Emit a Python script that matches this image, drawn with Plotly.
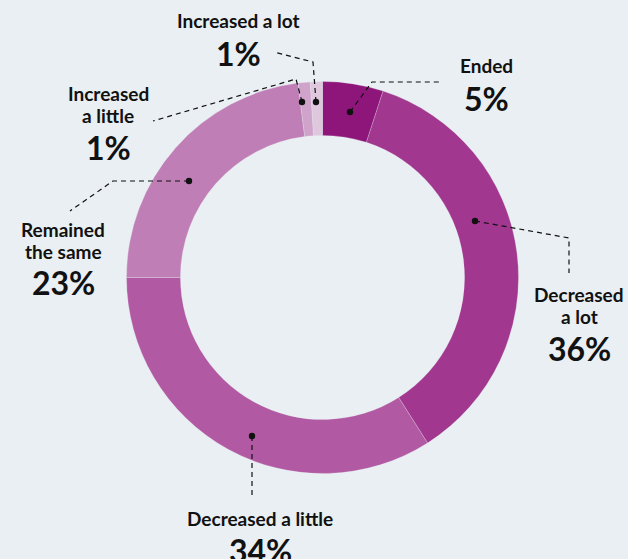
import plotly.graph_objects as go

# Share of respondents by change category (clockwise from 12 o'clock)
categories = ["Ended", "Decreased a lot", "Decreased a little",
              "Remained the same", "Increased a little", "Increased a lot"]
label_lines = [["Ended"], ["Decreased", "a lot"], ["Decreased a little"],
               ["Remained", "the same"], ["Increased", "a little"], ["Increased a lot"]]
shares = [5, 36, 34, 23, 1, 1]
colors = ["#8E1579", "#A1378F", "#B15AA3", "#C07EB6", "#D0A3CB", "#DFC7DE"]

W, H = 628, 559
BG = "#E9EFF2"
cx, cy, R = 322.5, 277.5, 196.0

# Leader-line geometry in pixel space: dot on the ring, then the dashed path
leaders = {
    "Ended": [(350, 112), (372, 82), (440, 82)],
    "Decreased a lot": [(475, 221), (569, 238), (569, 273)],
    "Decreased a little": [(252, 436), (252, 498)],
    "Remained the same": [(189, 181), (113, 181), (70, 211)],
    "Increased a little": [(302, 102), (296, 79), (153, 121)],
    "Increased a lot": [(316, 102), (313, 62), (274, 52)],
}
# Label anchor: centre x, centre y of the first text line, and percentage centre y
label_pos = {
    "Ended": (486, 65, 98),
    "Decreased a lot": (579, 294, 348),
    "Decreased a little": (260, 518, 550),
    "Remained the same": (63, 229, 282),
    "Increased a little": (108, 93, 147),
    "Increased a lot": (238, 20, 53),
}
LINE_STEP = 22

fig = go.Figure()

fig.add_trace(go.Pie(
    labels=categories,
    values=shares,
    sort=False,
    direction="clockwise",
    rotation=0,
    hole=0.725,
    marker=dict(colors=colors, line=dict(color="rgba(233,239,242,0.35)", width=0.7)),
    textinfo="none",
    hoverinfo="label+percent",
    showlegend=False,
    domain=dict(x=[(cx - R) / W, (cx + R) / W],
                y=[1 - (cy + R) / H, 1 - (cy - R) / H]),
))

# Leader lines and their dots drawn as shapes so they sit above the ring
shapes = []
for cat in categories:
    pts = leaders[cat]
    path = "M " + " L ".join(f"{x},{y}" for x, y in pts)
    shapes.append(dict(type="path", path=path, xref="x", yref="y", layer="above",
                       line=dict(color="#111111", width=1.2, dash="5px,4px")))
    dx, dy = pts[0]
    r = 3.2
    shapes.append(dict(type="circle", xref="x", yref="y", layer="above",
                       x0=dx - r, x1=dx + r, y0=dy - r, y1=dy + r,
                       fillcolor="#111111", line=dict(width=0)))

font_family = "Lato, 'Open Sans', sans-serif"
for cat, lines, val in zip(categories, label_lines, shares):
    lx, ly, py = label_pos[cat]
    for i, line in enumerate(lines):
        fig.add_annotation(x=lx, y=ly + i * LINE_STEP, xref="x", yref="y",
                           text=f"<b>{line}</b>", showarrow=False,
                           xanchor="center", yanchor="middle", borderpad=0,
                           font=dict(family=font_family, size=19, color="#111111"))
    fig.add_annotation(x=lx, y=py, xref="x", yref="y", text=f"<b>{val}%</b>",
                       showarrow=False, xanchor="center", yanchor="middle", borderpad=0,
                       font=dict(family=font_family, size=32, color="#111111"))

fig.update_layout(
    width=W, height=H,
    margin=dict(l=0, r=0, t=0, b=0),
    paper_bgcolor=BG, plot_bgcolor="rgba(0,0,0,0)",
    xaxis=dict(range=[0, W], visible=False, fixedrange=True),
    yaxis=dict(range=[H, 0], visible=False, fixedrange=True),
    shapes=shapes,
)

fig.write_html("out.html")
